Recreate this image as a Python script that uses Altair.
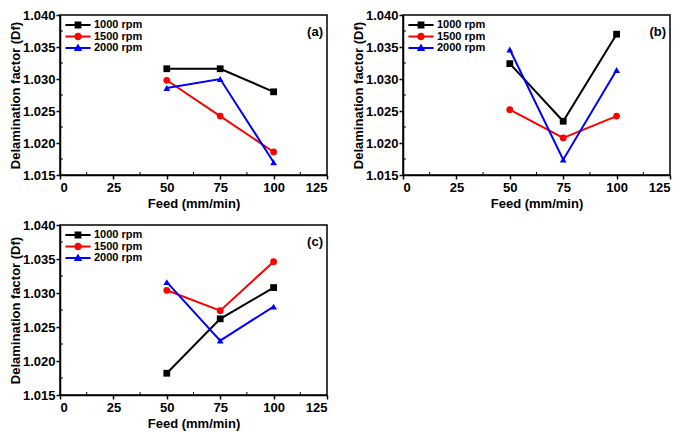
import altair as alt
import pandas as pd

feed = [50, 75, 100]
series = ["1000 rpm", "1500 rpm", "2000 rpm"]
colors = ["#000000", "#ff0000", "#0000ff"]
shapes = ["square", "circle", "triangle-up"]

a_1000 = [1.0316, 1.0316, 1.0280]
a_1500 = [1.0298, 1.0242, 1.0186]
a_2000 = [1.0286, 1.0300, 1.0170]

b_1000 = [1.0324, 1.0234, 1.0370]
b_1500 = [1.0252, 1.0208, 1.0242]
b_2000 = [1.0346, 1.0174, 1.0314]

c_1000 = [1.0182, 1.0262, 1.0308]
c_1500 = [1.0304, 1.0274, 1.0346]
c_2000 = [1.0316, 1.0230, 1.0280]

x_ticks = [0, 25, 50, 75, 100, 125]
y_ticks = [1.015, 1.020, 1.025, 1.030, 1.035, 1.040]
x_minor = [12.5, 37.5, 62.5, 87.5, 112.5]
y_minor = [1.0175, 1.0225, 1.0275, 1.0325, 1.0375]

x_title = "Feed (mm/min)"
y_title = "Delamination factor (Df)"

# legend symbols (unit = 6 px): a line segment with the marker in the middle
legend_paths = [
    "M-2.1,-0.17H2.1V0.17H-2.1Z M-0.57,-0.57H0.57V0.57H-0.57Z",
    "M-2.1,-0.17H2.1V0.17H-2.1Z M0.62,0A0.62,0.62 0 1,1 -0.62,0A0.62,0.62 0 1,1 0.62,0Z",
    "M-2.1,-0.17H2.1V0.17H-2.1Z M0,-0.74L0.7,0.52L-0.7,0.52Z",
]

FONT = "Liberation Sans"
W = 267


def panel(v1000, v1500, v2000, tag, h):
    df = pd.DataFrame({
        "feed": feed * 3,
        "df": v1000 + v1500 + v2000,
        "series": [s for s in series for _ in feed],
    })
    xs = alt.Scale(domain=[0, 125], nice=False)
    ys = alt.Scale(domain=[1.015, 1.040], nice=False, zero=False)
    xax = alt.Axis(values=x_ticks, title=x_title)
    yax = alt.Axis(values=y_ticks, format=".3f", title=y_title)
    x = alt.X("feed:Q", scale=xs, axis=xax)
    y = alt.Y("df:Q", scale=ys, axis=yax)
    cscale = alt.Scale(domain=series, range=colors)
    base = alt.Chart(df)
    lines = base.mark_line(strokeWidth=2).encode(
        x=x, y=y, color=alt.Color("series:N", scale=cscale, legend=None)
    )
    points = base.mark_point(filled=True, opacity=1, size=46).encode(
        x=x, y=y,
        color=alt.Color("series:N", scale=cscale, legend=None),
        shape=alt.Shape("series:N", scale=alt.Scale(domain=series, range=shapes), legend=None),
    )
    leg = alt.Legend(
        title=None, orient="none", legendX=12, legendY=4, padding=0,
        symbolSize=144, symbolStrokeWidth=0, symbolOpacity=1,
        rowPadding=0.5, labelOffset=10,
        labelFont=FONT, labelFontSize=11, labelFontWeight="bold", labelColor="black",
    )
    legend_layer = base.mark_point(filled=True, opacity=0).encode(
        x=x, y=y,
        color=alt.Color("series:N", scale=cscale, legend=leg),
        shape=alt.Shape("series:N", scale=alt.Scale(domain=series, range=legend_paths), legend=leg),
    )
    xminor = alt.Chart(pd.DataFrame({"v": x_minor})).mark_rule(color="black", strokeWidth=1).encode(
        x=alt.X("v:Q", scale=xs, axis=xax), y=alt.value(h), y2=alt.value(h - 3)
    )
    yminor = alt.Chart(pd.DataFrame({"v": y_minor})).mark_rule(color="black", strokeWidth=1).encode(
        y=alt.Y("v:Q", scale=ys, axis=yax), x=alt.value(0), x2=alt.value(3)
    )
    label = alt.Chart(pd.DataFrame({"t": [tag]})).mark_text(
        font=FONT, fontSize=13, fontWeight="bold", align="right", baseline="middle", color="black"
    ).encode(text="t:N", x=alt.value(W - 4), y=alt.value(17))
    return alt.layer(lines, points, legend_layer, xminor, yminor, label).resolve_scale(
        color="independent", shape="independent"
    ).resolve_legend(color="independent", shape="independent").properties(width=W, height=h)


pa = panel(a_1000, a_1500, a_2000, "(a)", 160)
pb = panel(b_1000, b_1500, b_2000, "(b)", 160)
pc = panel(c_1000, c_1500, c_2000, "(c)", 170)

top = alt.hconcat(pa, pb, spacing=22)
chart = alt.vconcat(top, pc, spacing=7).resolve_scale(
    color="independent", shape="independent"
).resolve_legend(color="independent", shape="independent").properties(
    padding={"left": 0, "top": 0, "right": 0, "bottom": 0}
).configure_view(
    stroke="black", strokeWidth=1.5
).configure_axis(
    grid=False,
    labelFont=FONT, labelFontSize=13, labelFontWeight="bold", labelColor="black",
    titleFont=FONT, titleFontSize=13, titleFontWeight="bold", titleColor="black",
    domainColor="black", domainWidth=1.5, tickColor="black", tickWidth=1.5, tickSize=4,
    labelPadding=1,
).configure_axisY(titlePadding=0).configure_axisX(titlePadding=3, labelPadding=2)

chart.save("out.html", embed_options={"renderer": "svg", "actions": False})
